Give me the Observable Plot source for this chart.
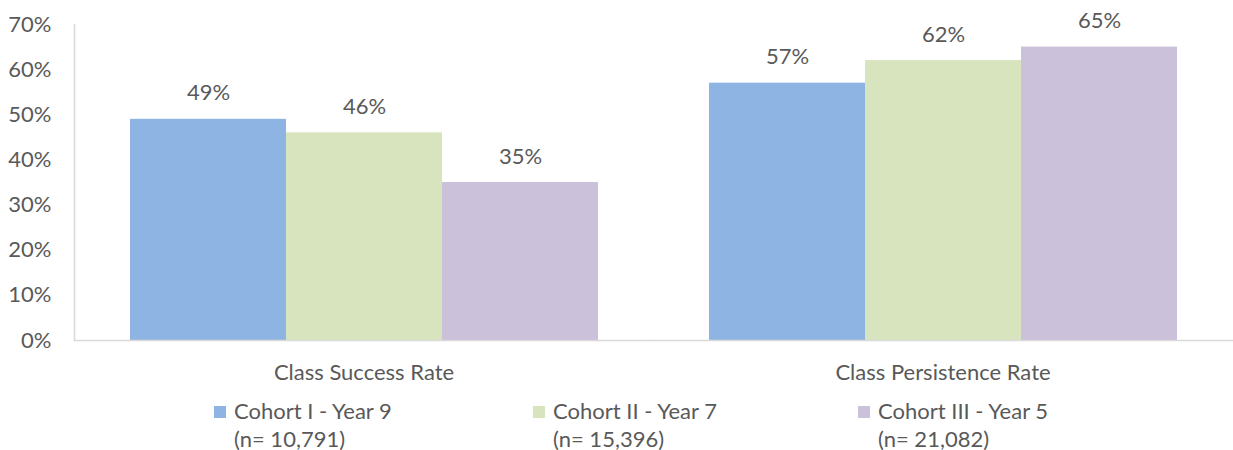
<!DOCTYPE html>
<html>
<head>
<meta charset="utf-8">
<script src="https://cdn.jsdelivr.net/npm/d3@7"></script>
<script src="https://cdn.jsdelivr.net/npm/@observablehq/plot@0.6"></script>
<style>
  body { margin: 0; background: #fff; font-family: Lato, "Open Sans", sans-serif; color: #595959; }
  #wrap { position: relative; width: 1233px; height: 450px; }
  #legend { position: absolute; left: 0; top: 392px; width: 1233px; height: 58px; }
  .item { position: absolute; top: 5px; font-size: 22px; line-height: 28px; color: #595959; white-space: nowrap; }
  .sw { position: absolute; width: 12px; height: 12px; top: 9px; }
</style>
</head>
<body>
<div id="wrap"><div id="chart"></div><div id="legend"></div></div>
<script>
const categories = ["Class Success Rate", "Class Persistence Rate"];
const series = ["Cohort I - Year 9", "Cohort II - Year 7", "Cohort III - Year 5"];
const seriesN = ["(n= 10,791)", "(n= 15,396)", "(n= 21,082)"];
const cohortI = [49, 57];
const cohortII = [46, 62];
const cohortIII = [35, 65];
const colors = ["#8EB4E3", "#D7E4BD", "#CCC1DA"];
const yTicks = [0, 10, 20, 30, 40, 50, 60, 70];

const values = [cohortI, cohortII, cohortIII];
const rows = [];
categories.forEach((c, ci) => series.forEach((s, si) => rows.push({category: c, series: s, value: values[si][ci]})));

const plot = Plot.plot({
  width: 1233,
  height: 392,
  marginLeft: 73,
  marginRight: 1,
  marginTop: 24,
  marginBottom: 52,
  style: {fontFamily: "Lato, 'Open Sans', sans-serif", fontSize: "22px", color: "#595959", background: "#fff"},
  fx: {domain: categories, padding: 0},
  x: {domain: series, paddingInner: 0, paddingOuter: 0.3534, axis: null},
  y: {domain: [0, 70]},
  color: {domain: series, range: colors},
  marks: [
    Plot.barY(rows, {fx: "category", x: "series", y: "value", fill: "series"}),
    Plot.text(rows, {fx: "category", x: "series", y: "value", text: d => d.value + "%", dy: -26, fill: "#595959", fontSize: 22}),
    Plot.frame({anchor: "bottom", stroke: "#d9d9d9", strokeWidth: 1.5}),
    Plot.frame({anchor: "left", stroke: "#d9d9d9", strokeWidth: 1.5, facetAnchor: "left"}),
    Plot.axisY({ticks: yTicks, tickFormat: d => d + "%", tickSize: 0, tickPadding: 23, label: null, fontSize: 22}),
    Plot.axisFx({anchor: "bottom", tickSize: 0, tickPadding: 24, label: null, fontSize: 22})
  ]
});
document.getElementById("chart").appendChild(plot);

const lefts = [214, 533, 858];
const legend = document.getElementById("legend");
series.forEach((s, i) => {
  const it = document.createElement("div");
  it.className = "item";
  it.style.left = lefts[i] + "px";
  it.innerHTML = `<span class="sw" style="background:${colors[i]};left:0"></span><div style="padding-left:20px">${s}<br>${seriesN[i]}</div>`;
  legend.appendChild(it);
});
</script>
</body>
</html>
